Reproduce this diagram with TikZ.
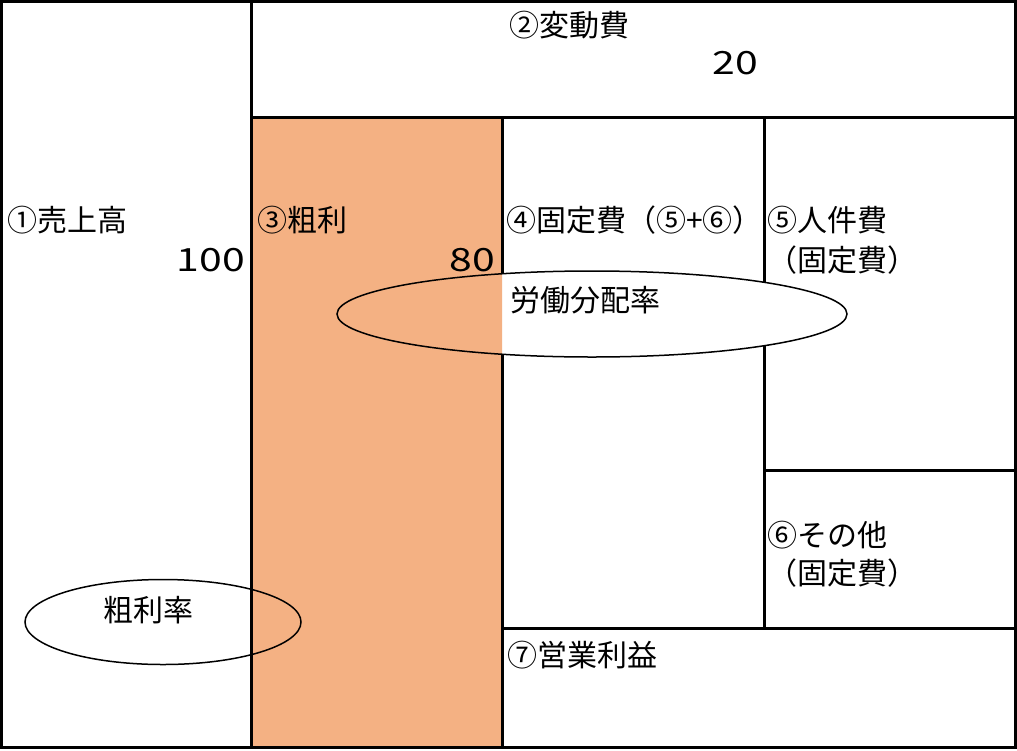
\documentclass[tikz,border=0pt]{standalone}
\usepackage{fontspec}
\setmainfont{Noto Sans CJK JP}
\usepackage{tikz}
\usetikzlibrary{shapes.geometric,positioning}
\definecolor{profit}{HTML}{F4B183}

\begin{document}
\begin{tikzpicture}[
        x=1pt, y=-1pt,
        every node/.style={inner sep=0pt, font=\fontsize{30}{32}\selectfont},
        lbl/.style={anchor=west},
        num/.style={anchor=east, font=\fontsize{32}{34}\selectfont},
        frame/.style={line width=3pt},
        ring/.style={draw, ellipse, line width=1.5pt, minimum width=#1},
        ]
      \useasboundingbox (0,0) rectangle (1017,750);

      % boxes
      \fill[profit] (251,117) rectangle (502,747);
      \draw[frame] (1.5,1.5) rectangle (1015,747);
      \draw[frame] (251,1.5) -- (251,747);
      \draw[frame] (251,117) -- (1015,117);
      \draw[frame] (502,117) -- (502,747);
      \draw[frame] (764,117) -- (764,628);
      \draw[frame] (764,470) -- (1015,470);
      \draw[frame] (502,628) -- (1015,628);

      % ellipse over the fixed costs
      \fill[white] (592,314) ellipse [x radius=255, y radius=43];
      \begin{scope}
        \clip (251,117) rectangle (502,747);
        \fill[profit] (592,314) ellipse [x radius=255, y radius=43];
      \end{scope}
      \node [ring=510pt, minimum height=86pt] (share) at (592,314) {};
      \node [ring=276pt, minimum height=85pt] (rate) at (163,622) {};

      \node [lbl] (sales) at (7,220) {①売上高};
      \node [num] (sales-val) at (245,260) {\scalebox{1.28}[1]{100}};
      \node [lbl] (gross) at (257,220) {③粗利};
      \node [num] (gross-val) at (495,260) {\scalebox{1.28}[1]{80}};
      \node [lbl] (variable) at (509,25) {②変動費};
      \node [num] (variable-val) at (758,63) {\scalebox{1.28}[1]{20}};
      \node [lbl] (fixed) at (506,220) {④固定費（⑤+⑥）};
      \node [lbl] (labor) at (767,220) {⑤人件費};
      \node [lbl] (labor-sub) at (767,260) {（固定費）};
      \node [lbl] (other) at (767,535) {⑥その他};
      \node [lbl] (other-sub) at (767,573) {（固定費）};
      \node [lbl] (operating) at (507,655) {⑦営業利益};
      \node [lbl] (share-txt) at (510,300) {労働分配率};
      \node (rate-txt) at (148,610) {粗利率};
    \end{tikzpicture}
\end{document}
